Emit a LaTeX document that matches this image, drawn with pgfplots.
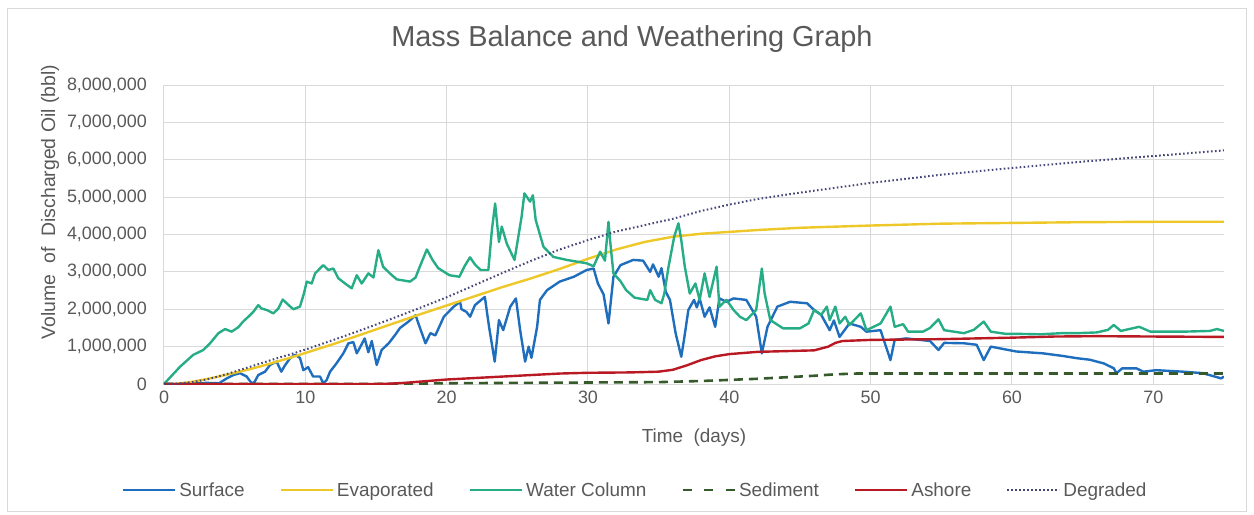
\documentclass[border=0pt]{standalone}
\usepackage{pgfplots}
\pgfplotsset{compat=1.18}
\usepackage{fontspec}
\setmainfont{Liberation Sans}

\definecolor{txtgray}{RGB}{89,89,89}
\definecolor{gridgray}{RGB}{217,217,217}
\definecolor{csurface}{RGB}{31,110,190}
\definecolor{cevap}{RGB}{238,200,40}
\definecolor{cwater}{RGB}{38,173,134}
\definecolor{csed}{RGB}{55,90,45}
\definecolor{cashore}{RGB}{185,25,35}
\definecolor{cdegr}{RGB}{70,70,120}

\begin{document}
\begin{tikzpicture}
\useasboundingbox (-164bp,-131bp) rectangle (1090bp,384bp);
\draw[gridgray, line width=1bp] (-156bp,-127bp) rectangle (1082bp,375bp);
\begin{axis}[
  at={(0,0)}, anchor=south west,
  scale only axis,
  width=1060bp, height=299bp,
  xmin=0, xmax=75, ymin=0, ymax=8,
  xtick={0,10,...,70},
  ytick={0,1,...,8},
  yticklabels={0,{1,000,000},{2,000,000},{3,000,000},{4,000,000},{5,000,000},{6,000,000},{7,000,000},{8,000,000}},
  /pgf/number format/assume math mode=true,
  major tick length=0pt,
  axis lines=left,
  axis line style={-, gridgray, line width=1bp},
  grid=major,
  major grid style={gridgray, line width=1bp},
  tick label style={font=\fontsize{18}{20}\selectfont, text=txtgray, inner sep=0pt},
  yticklabel style={anchor=east, xshift=-17bp},
  xticklabel style={anchor=north, yshift=-7bp},
  title={Mass Balance and Weathering Graph},
  title style={at={(0.4415,1.1338)}, anchor=center, font=\fontsize{29}{32}\selectfont, text=txtgray},
  xlabel={Time\ \ (days)},
  xlabel style={at={(0.5,-0.18)}, anchor=center, font=\fontsize{19}{22}\selectfont, text=txtgray},
  ylabel={Volume\ \ of\ \ Discharged Oil (bbl)},
  ylabel style={at={(-0.1075,0.609)}, anchor=center, rotate=0, font=\fontsize{19.5}{22}\selectfont, text=txtgray},
  legend columns=6,
  legend style={at={(0.445,-0.355)}, anchor=center, draw=none, fill=none,
    font=\fontsize{19}{21}\selectfont, text=txtgray,
    nodes={inner sep=3bp},
    /tikz/every even column/.append style={column sep=32bp}},
  legend image code/.code={\draw[#1] (0bp,0bp) -- (52bp,0bp);},
  every axis plot/.append style={line join=round},
]
% Surface (Mbbl)
\addplot[csurface, line width=2.4bp] coordinates {
(0,0) (1,0) (2,0.01) (3,0.03) (3.9,0.02) (4.44,0.15) (4.9,0.24) (5.38,0.29) (5.85,0.2) (6.2,0.02) (6.4,0.05) (6.67,0.24) (7.15,0.33) (7.5,0.51) (7.97,0.6) (8.3,0.33) (8.56,0.5) (8.92,0.69) (9.27,0.78) (9.62,0.7) (9.86,0.37) (10.2,0.45) (10.55,0.2) (11.04,0.2) (11.27,0.02) (11.5,0.1) (11.75,0.33) (12.2,0.55) (12.69,0.82) (13.05,1.09) (13.4,1.12) (13.64,0.82) (13.9,1.0) (14.2,1.22) (14.46,0.85) (14.7,1.15) (15.05,0.51) (15.4,0.91) (15.9,1.09) (16.35,1.31) (16.7,1.5) (17.3,1.67) (17.8,1.84) (18.0,1.62) (18.5,1.09) (18.85,1.36) (19.2,1.3) (19.8,1.8) (20.5,2.07) (20.95,2.2) (21.05,2.0) (21.4,1.93) (21.66,1.8) (22.0,2.11) (22.7,2.33) (23.0,1.53) (23.4,0.6) (23.7,1.71) (24.0,1.44) (24.5,2.07) (24.9,2.29) (25.2,1.44) (25.55,0.6) (25.8,1.0) (26.0,0.7) (26.4,1.53) (26.6,2.25) (27.1,2.51) (28.0,2.74) (29.0,2.87) (29.9,3.05) (30.4,3.09) (30.7,2.69) (31.1,2.4) (31.45,1.62) (31.8,2.87) (32.3,3.18) (33.2,3.32) (33.9,3.3) (34.4,3.0) (34.6,3.2) (35.0,2.87) (35.2,3.1) (35.5,2.47) (35.8,2.25) (36.2,1.36) (36.6,0.73) (36.8,1.2) (37.1,1.98) (37.5,2.25) (37.7,2.05) (37.9,2.29) (38.25,1.8) (38.6,2.05) (39.0,1.53) (39.3,2.29) (39.8,2.2) (40.3,2.29) (41.2,2.25) (41.9,1.8) (42.3,0.82) (42.7,1.53) (43.4,2.07) (44.3,2.2) (45.5,2.16) (46.0,1.98) (46.5,1.85) (47.1,1.44) (47.4,1.7) (47.8,1.26) (48.5,1.62) (49.3,1.53) (49.7,1.4) (50.7,1.44) (51.4,0.64) (51.7,1.18) (52.5,1.22) (53.5,1.18) (54.2,1.15) (54.8,0.91) (55.2,1.1) (56.6,1.09) (57.5,1.05) (58.0,0.64) (58.5,1.0) (60.3,0.87) (62.2,0.82) (63.6,0.75) (64.6,0.69) (65.5,0.65) (66.5,0.55) (67.2,0.42) (67.4,0.29) (67.8,0.42) (68.8,0.42) (69.3,0.33) (70.2,0.37) (72.1,0.33) (73.5,0.29) (74.8,0.15) (75,0.2)
};
\addlegendentry{Surface}
% Evaporated
\addplot[cevap, line width=2.4bp] coordinates {
(0,0) (1,0.01) (2,0.06) (3,0.13) (4,0.21) (5,0.3) (6,0.39) (7,0.49) (8,0.6) (9,0.71) (10,0.83) (12,1.07) (14,1.33) (16,1.59) (18,1.85) (20,2.1) (22,2.35) (24,2.6) (26,2.83) (28,3.08) (30,3.35) (32,3.6) (34,3.8) (36,3.94) (38,4.02) (40,4.07) (42,4.12) (45,4.18) (50,4.24) (55,4.29) (60,4.31) (65,4.33) (70,4.34) (75,4.34)
};
\addlegendentry{Evaporated}
% Water Column
\addplot[cwater, line width=2.4bp] coordinates {
(0,0) (1.13,0.46) (2.07,0.78) (2.78,0.91) (3.26,1.09) (3.85,1.36) (4.32,1.47) (4.79,1.40) (5.26,1.52) (5.6,1.67) (5.97,1.80) (6.32,1.93) (6.67,2.11) (6.9,2.02) (7.27,1.98) (7.74,1.89) (8.09,2.02) (8.4,2.26) (8.68,2.16) (9.15,2.0) (9.62,2.07) (9.9,2.42) (10.1,2.74) (10.45,2.69) (10.69,2.96) (11.27,3.18) (11.63,3.05) (11.98,3.09) (12.33,2.83) (12.81,2.69) (13.28,2.56) (13.64,2.91) (13.99,2.69) (14.46,2.96) (14.82,2.85) (15.17,3.58) (15.5,3.14) (15.98,2.96) (16.47,2.80) (17.41,2.74) (17.8,2.85) (18.1,3.14) (18.6,3.6) (19.0,3.32) (19.4,3.1) (20.2,2.91) (20.9,2.87) (21.25,3.14) (21.65,3.39) (22.0,3.2) (22.4,3.05) (22.95,3.05) (23.2,4.12) (23.43,4.83) (23.7,3.8) (23.9,4.21) (24.25,3.76) (24.8,3.32) (25.3,4.47) (25.5,5.1) (25.9,4.88) (26.1,5.05) (26.3,4.39) (26.85,3.67) (27.55,3.4) (28.5,3.32) (29.9,3.23) (30.4,3.15) (30.86,3.54) (31.2,3.3) (31.45,4.34) (31.6,3.7) (31.8,2.96) (32.3,2.75) (32.7,2.51) (33.3,2.31) (34.2,2.25) (34.4,2.51) (34.75,2.25) (35.2,2.16) (35.4,2.42) (35.7,3.14) (36.1,3.94) (36.4,4.3) (36.6,3.85) (36.85,3.14) (37.2,2.42) (37.6,2.69) (37.9,2.25) (38.25,2.96) (38.6,2.33) (39.1,3.14) (39.3,2.07) (39.8,2.25) (40.3,1.98) (40.75,1.80) (41.2,1.71) (41.9,1.98) (42.3,3.09) (42.5,2.42) (42.9,1.71) (43.8,1.49) (45.0,1.49) (45.6,1.62) (46.0,1.98) (46.5,1.85) (46.9,2.07) (47.1,1.71) (47.5,2.07) (47.8,1.62) (48.2,1.8) (48.5,1.58) (49.3,1.89) (49.7,1.44) (50.7,1.62) (51.4,2.07) (51.7,1.53) (52.3,1.6) (52.65,1.40) (53.7,1.40) (54.2,1.5) (54.8,1.73) (55.2,1.44) (56.6,1.36) (57.3,1.45) (58.0,1.67) (58.5,1.40) (59.6,1.34) (60.6,1.34) (62,1.33) (63.5,1.36) (64.6,1.36) (66,1.38) (66.8,1.45) (67.2,1.58) (67.7,1.42) (69.0,1.53) (69.8,1.40) (72.1,1.40) (74.0,1.42) (74.5,1.47) (75,1.42)
};
\addlegendentry{Water Column}
% Sediment
\addplot[csed, line width=2.6bp, dash pattern=on 9bp off 6bp,
  legend image post style={dash pattern=on 9bp off 12.5bp}] coordinates {
(0,0) (17,0) (18,0.01) (20,0.02) (25,0.03) (30,0.04) (35,0.05) (38,0.08) (40,0.11) (42,0.14) (44,0.18) (46,0.22) (47.5,0.26) (49,0.28) (55,0.28) (75,0.28)
};
\addlegendentry{Sediment}
% Ashore
\addplot[cashore, line width=2.4bp] coordinates {
(0,0) (15,0) (16,0.01) (17,0.03) (18,0.06) (20,0.12) (22,0.16) (25,0.22) (28,0.28) (30,0.3) (33,0.31) (35,0.33) (36,0.38) (37,0.5) (38,0.64) (39,0.74) (40,0.8) (42,0.86) (44,0.88) (46,0.9) (47,1.0) (47.5,1.1) (48,1.15) (50,1.18) (55,1.2) (60,1.24) (63,1.27) (66,1.28) (70,1.27) (75,1.26)
};
\addlegendentry{Ashore}
% Degraded
\addplot[cdegr, line width=2bp, dash pattern=on 1.6bp off 2.4bp] coordinates {
(0,0) (1,0.01) (2,0.05) (3,0.12) (4,0.22) (5,0.33) (6,0.45) (7,0.57) (8,0.69) (9,0.8) (10,0.92) (12,1.18) (14,1.45) (16,1.73) (18,2.02) (20,2.32) (22,2.65) (24,2.98) (26,3.3) (28,3.6) (30,3.85) (32,4.08) (34,4.25) (36,4.42) (38,4.63) (40,4.8) (42,4.95) (45,5.12) (50,5.38) (55,5.6) (60,5.78) (65,5.95) (70,6.1) (75,6.25)
};
\addlegendentry{Degraded}
\end{axis}
\end{tikzpicture}
\end{document}
